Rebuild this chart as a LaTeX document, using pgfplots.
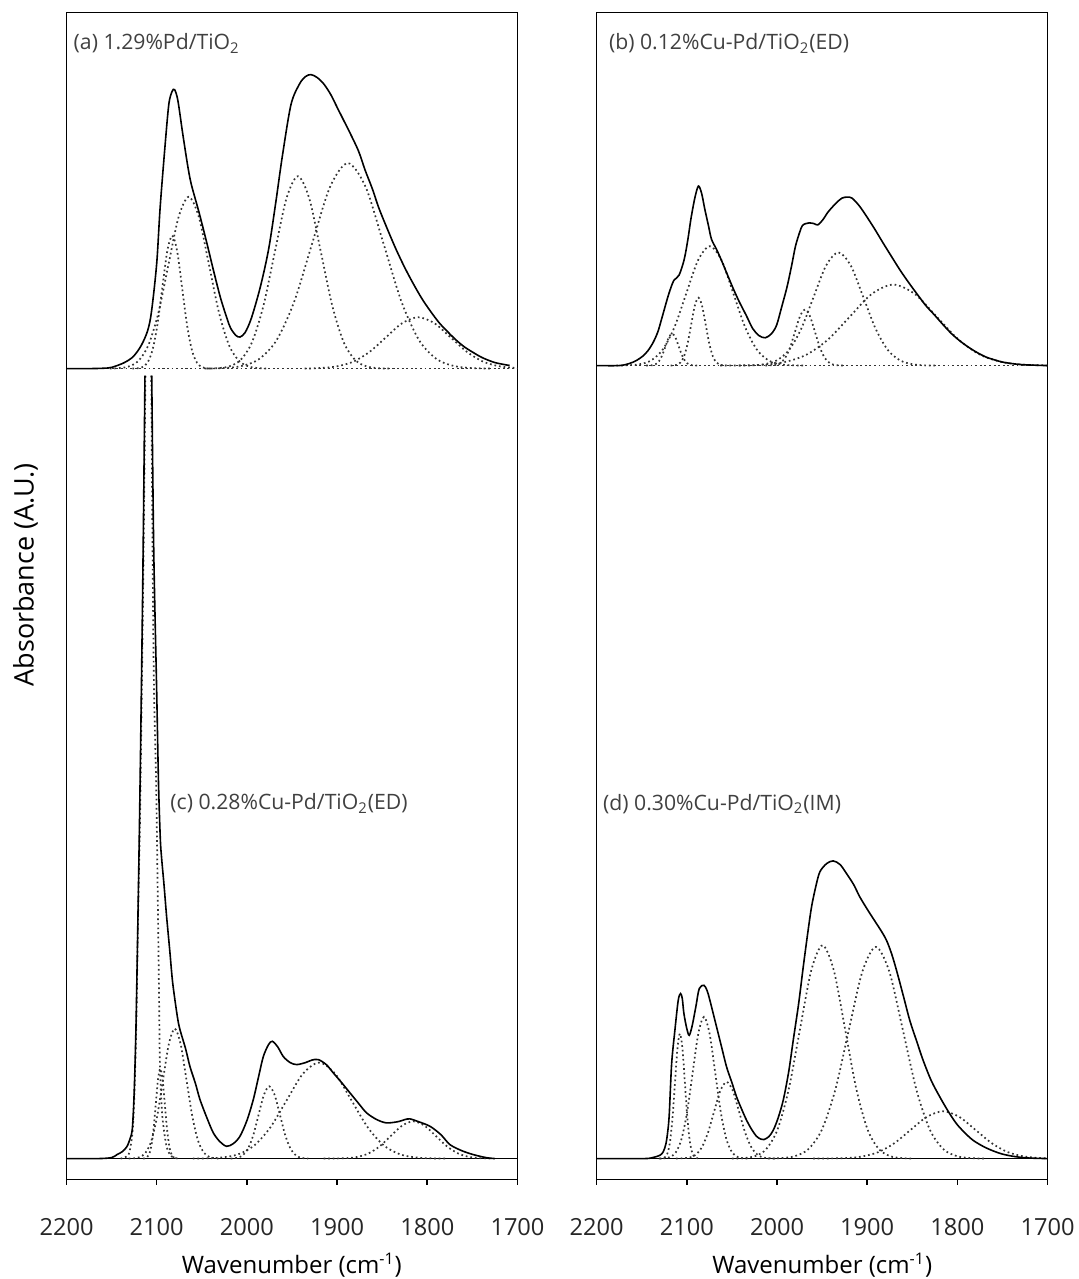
\documentclass[border=0pt]{standalone}
\usepackage{fontspec}
\setmainfont{Open Sans}
\usepackage{pgfplots}
\pgfplotsset{compat=1.18}

\pgfplotsset{
  panel/.style={
    scale only axis, width=225.5pt, height=583.5pt, anchor=south west,
    xmin=1700, xmax=2200, x dir=reverse, ymin=-0.21, ymax=11.46,
    xtick={1700,1800,...,2200}, xtick pos=bottom, ytick=\empty,
    tick align=outside, major tick length=2.5pt,
    axis line style={line width=0.8pt},
    major tick style={black, line width=0.8pt},
    ticklabel style={font=\fontsize{11.8}{14}\selectfont, text=black!85},
    xticklabel style={anchor=base, yshift=-25.4pt},
    /pgf/number format/1000 sep={},
    /pgf/number format/assume math mode=true,
  },
  tot/.style={black, line width=0.8pt, smooth, no marks},
  comp/.style={black!80, line width=0.85pt, dash pattern=on 0.85pt off 1.45pt, smooth, no marks},
  base/.style={black, line width=0.7pt, no marks},
  upA/.style={y filter/.expression={y+7.90}},
  upB/.style={y filter/.expression={y+7.93}},
}

\begin{document}
\begin{tikzpicture}
\useasboundingbox (0,0) rectangle (539pt,639.5pt);

% ---------------- left column: (a) on top, (c) below ----------------
\begin{axis}[panel, at={(33.25pt,49.7pt)}]
% (a) 1.29% Pd/TiO2
\addplot[comp, upA] coordinates {(2165,0) (1700,0)};
\addplot[comp, upA] coordinates {(2127,0)(2121.3,0.003)(2115.8,0.015)(2110.3,0.058)(2104.8,0.18)(2099.3,0.432)(2093.8,0.807)(2088.3,1.174)(2082.8,1.33)(2077.3,1.174)(2071.8,0.807)(2066.3,0.432)(2060.8,0.18)(2055.3,0.058)(2049.8,0.015)(2044.3,0.003)(2039,0)};
\addplot[comp, upA] coordinates {(2152,0)(2142.9,0.004)(2131.7,0.019)(2120.5,0.075)(2109.3,0.232)(2098.1,0.558)(2086.9,1.042)(2075.7,1.516)(2064.5,1.718)(2053.3,1.516)(2042.1,1.042)(2030.9,0.558)(2019.7,0.232)(2008.5,0.075)(1997.3,0.019)(1986.1,0.004)(1977,0)};
\addplot[comp, upA] coordinates {(2045,0)(2032.75,0.004)(2020,0.021)(2007.25,0.084)(1994.5,0.26)(1981.75,0.625)(1969,1.167)(1956.25,1.698)(1943.5,1.924)(1930.75,1.698)(1918,1.167)(1905.25,0.625)(1892.5,0.26)(1879.75,0.084)(1867,0.021)(1854.25,0.004)(1842,0)};
\addplot[comp, upA] coordinates {(2047,0)(2027.05,0.005)(2007.2,0.023)(1987.35,0.09)(1967.5,0.278)(1947.65,0.667)(1927.8,1.246)(1907.95,1.814)(1888.1,2.055)(1868.25,1.814)(1848.4,1.246)(1828.55,0.667)(1808.7,0.278)(1788.85,0.09)(1769,0.023)(1749.15,0.005)(1730,0)};
\addplot[comp, upA] coordinates {(1936,0)(1918,0.006)(1900,0.023)(1882,0.069)(1864,0.167)(1846,0.311)(1828,0.453)(1810,0.513)(1792,0.453)(1774,0.311)(1756,0.167)(1738,0.069)(1720,0.023)(1702,0.006)(1700,0.005)};
\addplot[tot, upA] coordinates {(2200,0)(2175,0)(2160,0.003)(2150,0.012)(2136.3,0.058)(2126,0.12)(2117.2,0.23)(2110,0.38)(2105.7,0.574)(2100,1.05)(2096.2,1.608)(2091,2.2)(2086.6,2.64)(2083,2.77)(2080.1,2.789)(2076.5,2.68)(2071.4,2.365)(2066,2.05)(2061.8,1.849)(2053,1.56)(2044.6,1.263)(2037,0.98)(2029.4,0.712)(2022,0.5)(2017.9,0.402)(2012,0.33)(2007.6,0.316)(2002,0.36)(1995,0.505)(1985,0.82)(1975.9,1.194)(1968,1.66)(1960.7,2.124)(1951.1,2.641)(1941.6,2.847)(1935,2.92)(1929,2.94)(1922,2.91)(1914.8,2.847)(1907,2.74)(1899.6,2.606)(1892,2.47)(1884.3,2.331)(1876,2.17)(1869,1.986)(1861,1.8)(1853.8,1.608)(1844,1.39)(1834.7,1.194)(1825,1.01)(1815.6,0.85)(1806,0.7)(1796.5,0.574)(1787,0.46)(1777.4,0.368)(1768,0.285)(1758.3,0.213)(1748,0.155)(1739.2,0.11)(1725,0.06)(1708.7,0.031)};

% (c) 0.28% Cu-Pd/TiO2 (ED)
\addplot[base] coordinates {(2200,0) (1700,0)};
\addplot[comp] coordinates {(2140,0)(2132,0.03)(2129,0.12)(2126.5,0.3)(2124.5,0.7)(2122.5,1.4)(2120.5,2.5)(2118.5,3.4)(2116.5,4.7)(2114.5,6.1)(2112.5,7.83)};
\addplot[comp] coordinates {(2106,7.83)(2104.5,6.0)(2103,4.7)(2100.5,3.7)(2098.5,2.4)(2097.2,1.5)(2096.5,0.98)(2094,0.45)(2089,0.12)(2083,0.02)(2075,0)};
\addplot[comp] coordinates {(2115,0)(2111,0.01)(2108.5,0.04)(2106,0.122)(2103.5,0.292)(2101,0.546)(2098.5,0.794)(2096,0.9)(2093.5,0.794)(2091,0.546)(2088.5,0.292)(2086,0.122)(2083.5,0.04)(2081,0.01)(2077,0)};
\addplot[comp] coordinates {(2131,0)(2125.5,0.003)(2119,0.014)(2112.5,0.057)(2106,0.176)(2099.5,0.422)(2093,0.788)(2086.5,1.147)(2080,1.30)(2073.5,1.147)(2067,0.788)(2060.5,0.422)(2054,0.176)(2047.5,0.057)(2041,0.014)(2034.5,0.003)(2029,0)};
\addplot[comp] coordinates {(2018,0)(2010.6,0.008)(2004.7,0.032)(1998.8,0.098)(1992.9,0.235)(1987,0.439)(1981.1,0.638)(1975.2,0.723)(1969.3,0.638)(1963.4,0.439)(1957.5,0.235)(1951.6,0.098)(1945.7,0.032)(1939.8,0.008)(1932,0)};
\addplot[comp] coordinates {(2060,0)(2046,0.002)(2028,0.011)(2010,0.042)(1992,0.13)(1974,0.312)(1956,0.582)(1938,0.847)(1920,0.96)(1902,0.847)(1884,0.582)(1866,0.312)(1848,0.13)(1830,0.042)(1812,0.011)(1794,0.002)(1780,0)};
\addplot[comp] coordinates {(1915,0)(1890.5,0.004)(1878,0.016)(1865.5,0.05)(1853,0.121)(1840.5,0.226)(1828,0.329)(1815.5,0.373)(1803,0.329)(1790.5,0.226)(1778,0.121)(1765.5,0.05)(1753,0.016)(1740.5,0.004)(1728,0)};
\addplot[tot] coordinates {(2200,0)(2165,0)(2150,0.01)(2144,0.04)(2138,0.07)(2133,0.12)(2129.5,0.2)(2127,0.3)(2125,0.65)(2123,1.3)(2121,2.3)(2119,3.4)(2117,4.67)(2115,6.1)(2113,7.83)};
\addplot[tot] coordinates {(2105.5,7.83)(2103.3,6.1)(2100,4.67)(2098,3.76)(2096,3.2)(2094.5,3.0)(2092,2.75)(2089,2.42)(2085.5,2.08)(2082.3,1.76)(2077.1,1.42)(2074.2,1.29)(2068,1.1)(2063.1,0.92)(2057,0.75)(2052,0.59)(2044,0.4)(2037.2,0.257)(2030,0.17)(2022.5,0.123)(2015,0.15)(2007.7,0.223)(2000,0.38)(1992.9,0.59)(1987,0.82)(1981.8,1.02)(1976,1.14)(1971.8,1.173)(1966,1.12)(1959.6,1.02)(1952,0.96)(1944.8,0.94)(1935,0.96)(1928,0.985)(1920.8,0.99)(1912,0.94)(1904.2,0.857)(1895,0.76)(1885.7,0.657)(1876,0.55)(1867.3,0.457)(1856,0.39)(1845.1,0.357)(1832,0.37)(1825,0.39)(1819.2,0.397)(1810,0.37)(1797,0.323)(1785,0.24)(1774.9,0.14)(1762,0.08)(1749,0.04)(1735,0.01)(1725,0)};
\end{axis}

% ---------------- right column: (b) on top, (d) below ----------------
\begin{axis}[panel, at={(298.3pt,49.7pt)}]
% (b) 0.12% Cu-Pd/TiO2 (ED)
\addplot[comp, upB] coordinates {(2178,0) (1700,0)};
\addplot[comp, upB] coordinates {(2145,0)(2138.2,0.004)(2134.55,0.014)(2130.9,0.043)(2127.25,0.104)(2123.6,0.193)(2119.95,0.282)(2116.3,0.319)(2112.65,0.282)(2109,0.193)(2105.35,0.104)(2101.7,0.043)(2098.05,0.014)(2094.4,0.004)(2088,0)};
\addplot[comp, upB] coordinates {(2118,0)(2111.1,0.0075)(2107.1,0.03)(2103.1,0.092)(2099.1,0.22)(2095.1,0.412)(2091.1,0.599)(2087.1,0.679)(2083.1,0.599)(2079.1,0.412)(2075.1,0.22)(2071.1,0.092)(2067.1,0.03)(2063.1,0.0075)(2056,0)};
\addplot[comp, upB] coordinates {(2178,0)(2165.5,0.003)(2152.5,0.013)(2139.5,0.052)(2126.5,0.162)(2113.5,0.388)(2100.5,0.724)(2087.5,1.054)(2074.5,1.194)(2061.5,1.054)(2048.5,0.724)(2035.5,0.388)(2022.5,0.162)(2009.5,0.052)(1996.5,0.013)(1983.5,0.003)(1970,0)};
\addplot[comp, upB] coordinates {(2013,0)(2002,0.006)(1996.5,0.025)(1991,0.076)(1985.5,0.182)(1980,0.34)(1974.5,0.494)(1969,0.56)(1963.5,0.494)(1958,0.34)(1952.5,0.182)(1947,0.076)(1941.5,0.025)(1936,0.006)(1925,0)};
\addplot[comp, upB] coordinates {(2042,0)(2028.15,0.002)(2014.4,0.013)(2000.65,0.05)(1986.9,0.153)(1973.15,0.368)(1959.4,0.687)(1945.65,0.999)(1931.9,1.132)(1918.15,0.999)(1904.4,0.687)(1890.65,0.368)(1876.9,0.153)(1863.15,0.05)(1849.4,0.013)(1835.65,0.002)(1822,0)};
\addplot[comp, upB] coordinates {(2063,0)(2039.1,0.002)(2015.1,0.009)(1991.1,0.036)(1967.1,0.11)(1943.1,0.263)(1919.1,0.491)(1895.1,0.715)(1871.1,0.81)(1847.1,0.715)(1823.1,0.491)(1799.1,0.263)(1775.1,0.11)(1751.1,0.036)(1727.1,0.009)(1703.1,0.002)(1700,0.001)};
\addplot[tot, upB] coordinates {(2200,0)(2175,0)(2163.9,0.02)(2156,0.05)(2148.6,0.096)(2143,0.15)(2137.2,0.233)(2132,0.34)(2127.7,0.473)(2120.1,0.713)(2114.4,0.851)(2108.7,0.902)(2103,1.057)(2099,1.25)(2095.4,1.468)(2091,1.68)(2087.1,1.795)(2083.5,1.72)(2080.2,1.571)(2076,1.4)(2072.6,1.263)(2066.9,1.16)(2061,1.04)(2055.5,0.92)(2049,0.78)(2042.2,0.645)(2034,0.5)(2026.9,0.37)(2020,0.3)(2012.9,0.278)(2006,0.32)(2000.4,0.405)(1995,0.58)(1989,0.782)(1984,0.99)(1979.5,1.194)(1975,1.33)(1971.9,1.4)(1968,1.42)(1964.2,1.427)(1959,1.42)(1954.7,1.407)(1949,1.46)(1943.3,1.537)(1935,1.62)(1928.1,1.674)(1922,1.685)(1916.7,1.674)(1909,1.6)(1901.5,1.503)(1892,1.37)(1882.5,1.228)(1873,1.09)(1863.5,0.954)(1854,0.83)(1844.5,0.713)(1835,0.6)(1825.5,0.507)(1816,0.41)(1806.5,0.319)(1797,0.245)(1787.4,0.182)(1778,0.13)(1768.4,0.086)(1758,0.055)(1749.4,0.034)(1735,0.015)(1722.8,0.007)(1700,0)};

% (d) 0.30% Cu-Pd/TiO2 (IM)
\addplot[base] coordinates {(2200,0) (1700,0)};
\addplot[comp] coordinates {(2130,0)(2126.85,0.003)(2124.1,0.014)(2121.35,0.055)(2118.6,0.169)(2115.85,0.406)(2113.1,0.758)(2110.35,1.103)(2107.6,1.25)(2104.85,1.103)(2102.1,0.758)(2099.35,0.406)(2096.6,0.169)(2093.85,0.055)(2091.1,0.014)(2088.35,0.003)(2085,0)};
\addplot[comp] coordinates {(2131,0)(2124.75,0.003)(2118.5,0.016)(2112.25,0.062)(2106,0.192)(2099.75,0.46)(2093.5,0.859)(2087.25,1.25)(2081,1.417)(2074.75,1.25)(2068.5,0.859)(2062.25,0.46)(2056,0.192)(2049.75,0.062)(2043.5,0.016)(2037.25,0.003)(2031,0)};
\addplot[comp] coordinates {(2112,0)(2097.9,0.0085)(2090.9,0.034)(2083.9,0.104)(2076.9,0.249)(2069.9,0.465)(2062.9,0.677)(2055.9,0.767)(2048.9,0.677)(2041.9,0.465)(2034.9,0.249)(2027.9,0.104)(2020.9,0.034)(2013.9,0.0085)(2000,0)};
\addplot[comp] coordinates {(2050,0)(2037,0.005)(2024.5,0.024)(2012,0.094)(1999.5,0.289)(1987,0.693)(1974.5,1.294)(1962,1.882)(1949.5,2.133)(1937,1.882)(1924.5,1.294)(1912,0.693)(1899.5,0.289)(1887,0.094)(1874.5,0.024)(1862,0.005)(1849,0)};
\addplot[comp] coordinates {(2010,0)(1995.4,0.005)(1980.4,0.024)(1965.4,0.093)(1950.4,0.286)(1935.4,0.687)(1920.4,1.284)(1905.4,1.868)(1890.4,2.117)(1875.4,1.868)(1860.4,1.284)(1845.4,0.687)(1830.4,0.286)(1815.4,0.093)(1800.4,0.024)(1785.4,0.005)(1770,0)};
\addplot[comp] coordinates {(1960,0)(1923.9,0.005)(1905.9,0.021)(1887.9,0.064)(1869.9,0.154)(1851.9,0.287)(1833.9,0.417)(1815.9,0.473)(1797.9,0.417)(1779.9,0.287)(1761.9,0.154)(1743.9,0.064)(1725.9,0.021)(1707.9,0.005)(1700,0.002)};
\addplot[tot] coordinates {(2200,0)(2148,0)(2138,0.01)(2129.8,0.033)(2126,0.07)(2123.1,0.15)(2121,0.28)(2119.4,0.45)(2116.8,0.95)(2113.2,1.283)(2109.5,1.583)(2106.9,1.65)(2105,1.6)(2103.2,1.45)(2100,1.3)(2097.3,1.233)(2094,1.33)(2090,1.517)(2086.2,1.70)(2081,1.733)(2077.5,1.68)(2074.4,1.583)(2067,1.317)(2061,1.1)(2055.9,0.917)(2050,0.76)(2044.8,0.617)(2039,0.49)(2033.7,0.383)(2028,0.29)(2022.7,0.223)(2018,0.195)(2014.5,0.19)(2009,0.22)(2004.2,0.283)(1999,0.4)(1993.1,0.583)(1987,0.87)(1982,1.183)(1976,1.55)(1970.9,1.917)(1966,2.25)(1961.7,2.517)(1957,2.72)(1952.5,2.867)(1945,2.95)(1937.7,2.977)(1930,2.94)(1922.9,2.85)(1915,2.74)(1908.2,2.617)(1899,2.48)(1889.7,2.35)(1884,2.27)(1878.6,2.183)(1873,2.05)(1867.5,1.883)(1860,1.63)(1852.8,1.383)(1845,1.17)(1838,0.983)(1829,0.78)(1819.5,0.617)(1810,0.47)(1801.1,0.35)(1792,0.26)(1782.6,0.183)(1771,0.12)(1760.4,0.077)(1750,0.045)(1738.3,0.023)(1725,0.008)(1712.4,0.003)(1700,0)};
\end{axis}

% panel captions
\begin{scope}[every node/.style={anchor=base west, inner sep=0pt, text=black!75, font=\fontsize{10.6}{13}\selectfont}]
\node at (36.65pt,614.5pt) {(a) 1.29\%Pd/TiO\textsubscript{2}};
\node at (304.3pt,614.6pt) {(b) 0.12\%Cu-Pd/TiO\textsubscript{2}(ED)};
\node at (85pt,234.5pt) {(c) 0.28\%Cu-Pd/TiO\textsubscript{2}(ED)};
\node at (301.35pt,234.15pt) {(d) 0.30\%Cu-Pd/TiO\textsubscript{2}(IM)};
\end{scope}

% axis titles
\node[anchor=base, inner sep=0pt, font=\fontsize{12}{14}\selectfont] at (145.95pt,2.8pt) {Wavenumber (cm\textsuperscript{-1})};
\node[anchor=base, inner sep=0pt, font=\fontsize{12}{14}\selectfont] at (411.1pt,2.8pt) {Wavenumber (cm\textsuperscript{-1})};
\node[rotate=90, inner sep=0pt, font=\fontsize{13.5}{16}\selectfont] at (12.8pt,352pt) {Absorbance (A.U.)};
\end{tikzpicture}
\end{document}
